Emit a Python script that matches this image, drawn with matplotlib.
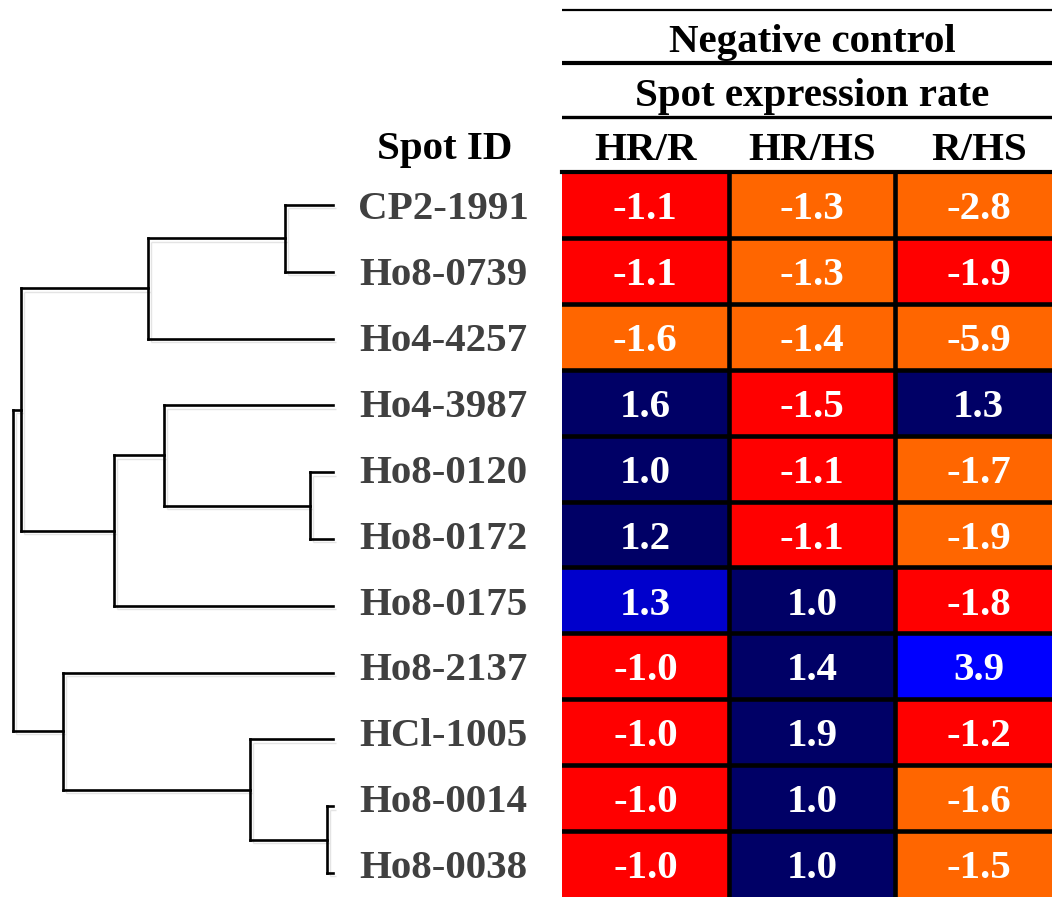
import numpy as np
import matplotlib
matplotlib.use('Agg')
import matplotlib.pyplot as plt
from matplotlib.colors import ListedColormap
from matplotlib.transforms import blended_transform_factory

plt.rcParams['font.family'] = ['Liberation Serif', 'DejaVu Serif']
plt.rcParams['font.weight'] = 'bold'

spot_ids = ['CP2-1991', 'Ho8-0739', 'Ho4-4257', 'Ho4-3987', 'Ho8-0120', 'Ho8-0172',
            'Ho8-0175', 'Ho8-2137', 'HCl-1005', 'Ho8-0014', 'Ho8-0038']
columns = ['HR/R', 'HR/HS', 'R/HS']
values = [[-1.1, -1.3, -2.8],
          [-1.1, -1.3, -1.9],
          [-1.6, -1.4, -5.9],
          [1.6, -1.5, 1.3],
          [1.0, -1.1, -1.7],
          [1.2, -1.1, -1.9],
          [1.3, 1.0, -1.8],
          [-1.0, 1.4, 3.9],
          [-1.0, 1.9, -1.2],
          [-1.0, 1.0, -1.6],
          [-1.0, 1.0, -1.5]]
# colour class of each cell: 0 red, 1 orange, 2 navy, 3 blue, 4 bright blue
classes = [[0, 1, 1],
           [0, 1, 0],
           [1, 1, 1],
           [2, 0, 2],
           [2, 0, 1],
           [2, 0, 1],
           [3, 2, 0],
           [0, 2, 4],
           [0, 2, 0],
           [0, 2, 1],
           [0, 2, 1]]
class_colors = ['#ff0000', '#ff6600', '#000066', '#0000cc', '#0000ff']

# dendrogram merges: (left, right, distance); ids >= 11 are earlier merges
merges = [(0, 1, 48),      # 11
          (11, 2, 185),    # 12
          (4, 5, 23),      # 13
          (3, 13, 169),    # 14
          (14, 6, 219),    # 15
          (12, 15, 312),   # 16
          (9, 10, 6),      # 17
          (8, 17, 83),     # 18
          (7, 18, 270),    # 19
          (16, 19, 320)]   # 20

W, H = 1052, 897
fig = plt.figure(figsize=(W / 100, H / 100), dpi=100)

def px_axes(x0, y0, x1, y1):
    return fig.add_axes([x0 / W, 1 - y1 / H, (x1 - x0) / W, (y1 - y0) / H])

# heatmap
n = len(spot_ids)
ax = px_axes(562, 172, 1062, 172 + 65.9 * n)
ax.pcolormesh(np.arange(4), np.arange(n + 1), np.array(classes),
              cmap=ListedColormap(class_colors), vmin=-0.5, vmax=4.5)
ax.set_xlim(0, 3)
ax.set_ylim(n, 0)
ax.axis('off')
for i in range(1, n):
    ax.axhline(i, color='black', lw=3.3)
ax.axhline(0, color='black', lw=3.0, clip_on=False)
for j in range(1, 3):
    ax.axvline(j, color='black', lw=3.3)
for i, row in enumerate(values):
    for j, v in enumerate(row):
        ax.text(j + 0.5, i + 0.5 + 0.215, f'{v:.1f}', ha='center', va='baseline',
                color='white', fontsize=29.5, fontweight='bold')

# row labels
tr = blended_transform_factory(fig.transFigure, ax.transData)
for i, s in enumerate(spot_ids):
    ax.text(443 / W, i + 0.5 + 0.215, s, transform=tr, ha='center', va='baseline',
            color='#404040', fontsize=29.5, fontweight='bold')

# header
hax = px_axes(562, 0, 1062, 172)
hax.set_xlim(0, 3)
hax.set_ylim(172, 0)
hax.axis('off')
hax.axhline(10, color='black', lw=1.6)
hax.axhline(63, color='black', lw=3.0)
hax.axhline(117.5, color='black', lw=2.4)
hax.text(1.5, 52, 'Negative control', ha='center', va='baseline', fontsize=29.5, fontweight='bold')
hax.text(1.5, 106, 'Spot expression rate', ha='center', va='baseline', fontsize=29.5, fontweight='bold')
for j, c in enumerate(columns):
    hax.text(j + 0.5, 159.5, c, ha='center', va='baseline', fontsize=29.5, fontweight='bold')
fig.text(445 / W, 1 - 159.5 / H, 'Spot ID', ha='center', va='baseline', fontsize=29.5,
         fontweight='bold')

# dendrogram
dax = px_axes(0, 205, 333, 873)
dax.set_xlim(333, 0)
dax.set_ylim(n - 1, 0)
dax.axis('off')
pos = {i: (float(i), 0.0) for i in range(n)}
segs = []
for k, (a, b, d) in enumerate(merges):
    ya, da = pos[a]
    yb, db = pos[b]
    segs.append(([da, d], [ya, ya]))
    segs.append(([db, d], [yb, yb]))
    segs.append(([d, d], [ya, yb]))
    pos[n + k] = ((ya + yb) / 2, d)
ya, d = pos[n + len(merges) - 1]
for xs, ys in segs:
    dax.plot(np.array(xs) - 3, np.array(ys) + 0.05, color='#e4e4e4', lw=1.0,
             clip_on=False, solid_capstyle='butt')
for xs, ys in segs:
    dax.plot(xs, ys, color='black', lw=1.9, clip_on=False, solid_capstyle='projecting')

fig.savefig('out.png', dpi=100)
